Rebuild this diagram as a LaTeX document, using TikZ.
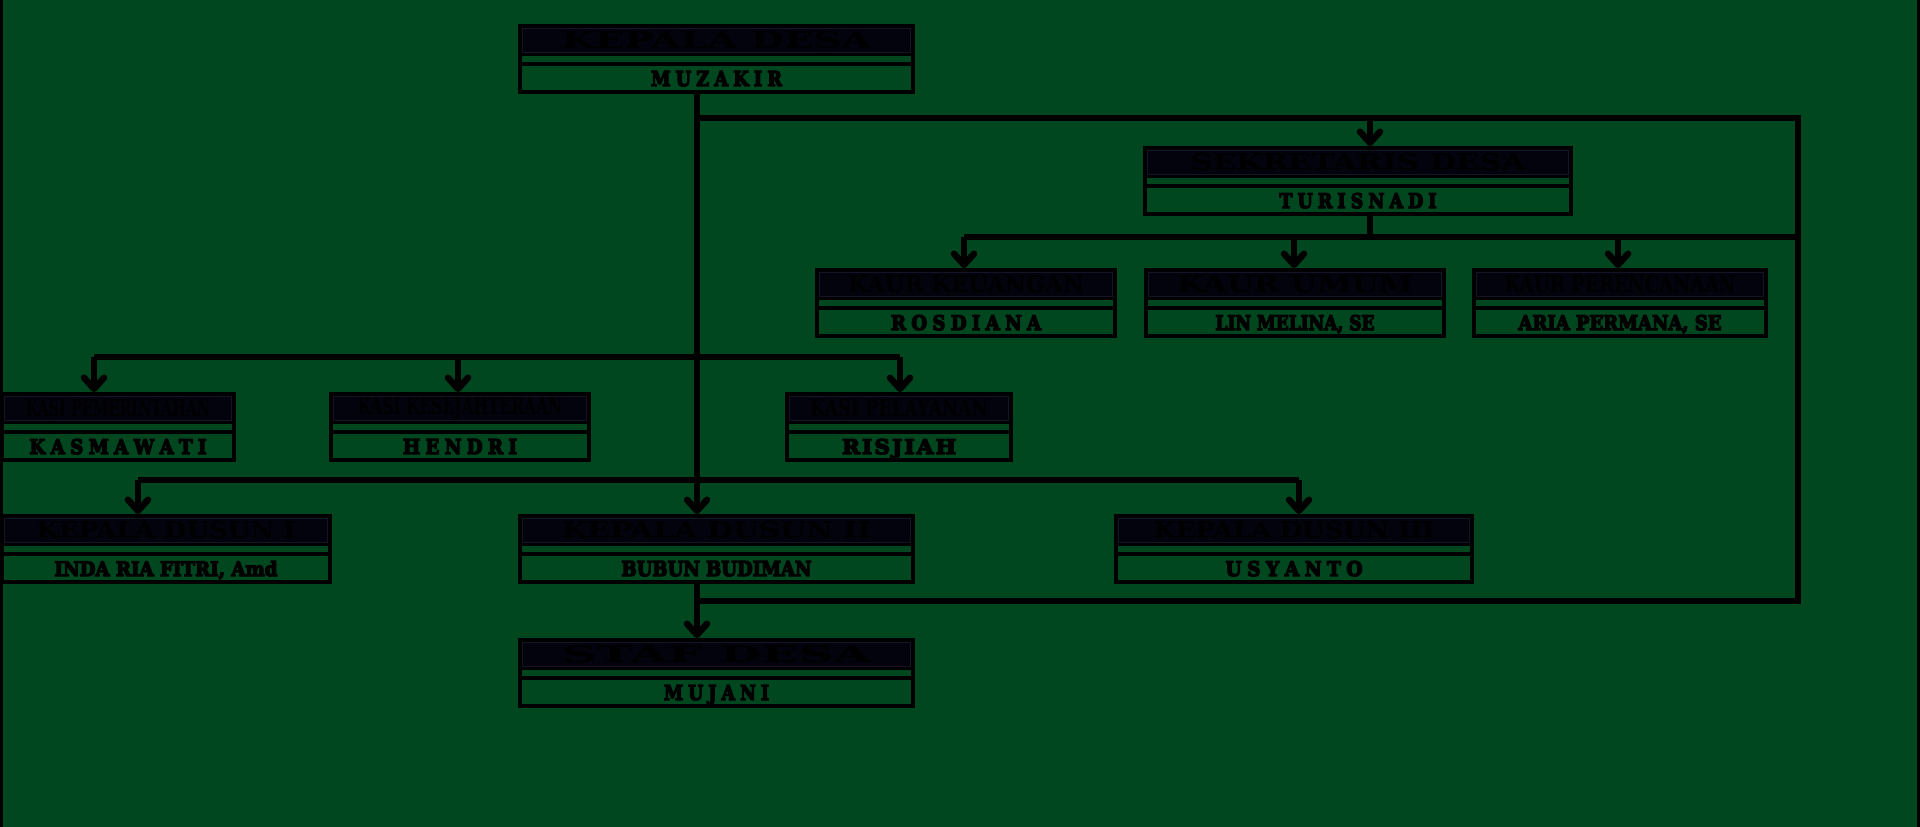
\documentclass[tikz,border=0pt]{standalone}
\usepackage{fontspec}
\usepackage{graphicx}
\usetikzlibrary{arrows.meta}
\newfontfamily\namefont{DejaVu Serif Bold}[FakeBold=7]
\newfontfamily\titlefont{DejaVu Serif Bold}
\definecolor{bg}{RGB}{0,71,31}
\definecolor{navy}{RGB}{3,3,14}
\definecolor{navyline}{RGB}{20,20,36}
\newcommand\ls{\kern.3em}
\newcommand\orgnode[7]{%
  \node[orgbox, minimum width={(#4)-(#2)-4}] (#1) at ({((#2)+(#4))/2},{(#3)+35}) {};
  \pgfmathsetlengthmacro\titlewd{0.78*((#4)-(#2))}%
  \node[titletext] (#1-t) at ([yshift=-16pt]#1.north) {\resizebox{\titlewd}{17pt}{#5}};
  \node[nametext] (#1-n) at ([yshift=-62pt]#1.north) {\resizebox{#7pt}{15pt}{#6}};
}
\begin{document}
\begin{tikzpicture}[x=1pt,y=-1pt,
  orgbox/.style={draw=black, line width=4pt, fill=bg, minimum height=66pt, inner sep=0pt,
    path picture={
      \fill[black] (path picture bounding box.north west) rectangle ([yshift=-30pt]path picture bounding box.north east);
      \filldraw[fill=navy, draw=navyline, line width=0.8pt] ([xshift=2.5pt,yshift=-2.5pt]path picture bounding box.north west) rectangle ([xshift=-2.5pt,yshift=-26pt]path picture bounding box.north east);
      \fill[black] ([yshift=-36pt]path picture bounding box.north west) rectangle ([yshift=-39.5pt]path picture bounding box.north east);
    }},
  titletext/.style={inner sep=0pt, text=black, font=\titlefont\fontsize{17}{17}\selectfont},
  nametext/.style={inner sep=0pt, anchor=base, text=black, font=\namefont\fontsize{20}{20}\selectfont},
  conn/.style={draw=black, line width=6.5pt},
  arr/.style={conn, -{Straight Barb[length=11pt,width=20pt,round]}}
]
\useasboundingbox (0,0) rectangle (1920,827);
\fill[bg] (0,0) rectangle (1920,827);
\fill[black] (0,0) rectangle (2.5,827);
\fill[black] (1917,0) rectangle (1920,827);

% boxes
\orgnode{muz}{518}{24}{915}{KEPALA DESA}{M\ls U\ls Z\ls A\ls K\ls I\ls R}{131}
\orgnode{tur}{1143}{146}{1573}{SEKRETARIS DESA}{T\ls U\ls R\ls I\ls S\ls N\ls A\ls D\ls I}{157}
\orgnode{ros}{815}{268}{1117}{KAUR KEUANGAN}{R\ls O\ls S\ls D\ls I\ls A\ls N\ls A}{150}
\orgnode{lin}{1144}{268}{1446}{KAUR UMUM}{LIN MELINA, SE}{159}
\orgnode{ari}{1472}{268}{1768}{KAUR PERENCANAAN}{ARIA PERMANA, SE}{203}
\orgnode{kas}{0}{392}{236}{KASI PEMERINTAHAN}{K\ls A\ls S\ls M\ls A\ls W\ls A\ls T\ls I}{177}
\orgnode{hen}{329}{392}{591}{KASI KESEJAHTERAAN}{H\ls E\ls N\ls D\ls R\ls I}{114}
\orgnode{ris}{785}{392}{1013}{KASI PELAYANAN}{R\kern.1em I\kern.1em S\kern.1em J\kern.1em I\kern.1em A\kern.1em H}{114}
\orgnode{ind}{0}{514}{332}{KEPALA DUSUN I}{INDA RIA FITRI, Amd}{223}
\orgnode{bub}{518}{514}{915}{KEPALA DUSUN II}{BUBUN BUDIMAN}{190}
\orgnode{usy}{1114}{514}{1474}{KEPALA DUSUN III}{U\ls S\ls Y\ls A\ls N\ls T\ls O}{137}
\orgnode{muj}{518}{638}{915}{STAF DESA}{M\ls U\ls J\ls A\ls N\ls I}{105}

% guide coordinates
\coordinate (cMain) at (697,0);
\coordinate (cRight) at (1798,0);
\coordinate (cTur) at (1370,0);
\coordinate (cRos) at (964,0);
\coordinate (cLin) at (1294,0);
\coordinate (cAri) at (1618,0);
\coordinate (cKas) at (94,0);
\coordinate (cHen) at (458,0);
\coordinate (cRis) at (900,0);
\coordinate (cInd) at (138,0);
\coordinate (cUsy) at (1299,0);
\coordinate (bTop) at (0,118);
\coordinate (bMid) at (0,237);
\coordinate (bRow4) at (0,357);
\coordinate (bRow5) at (0,480);
\coordinate (bBot) at (0,601);

% connectors
\draw[arr] (muz.south -| cMain) -- (bub.north -| cMain);
\draw[arr] (bub.south -| cMain) -- (muj.north -| cMain);
\draw[conn] (cMain |- bTop) -| (cRight |- bBot) -- (cMain |- bBot);
\draw[arr] (cTur |- bTop) -- (tur.north -| cTur);
\draw[conn] (tur.south -| cTur) -- (cTur |- bMid);
\draw[conn] (cRos |- bMid) -- (cRight |- bMid);
\draw[arr] (cRos |- bMid) -- (ros.north -| cRos);
\draw[arr] (cLin |- bMid) -- (lin.north -| cLin);
\draw[arr] (cAri |- bMid) -- (ari.north -| cAri);
\draw[conn] (cKas |- bRow4) -- (cRis |- bRow4);
\draw[arr] (cKas |- bRow4) -- (kas.north -| cKas);
\draw[arr] (cHen |- bRow4) -- (hen.north -| cHen);
\draw[arr] (cRis |- bRow4) -- (ris.north -| cRis);
\draw[conn] (cInd |- bRow5) -- (cUsy |- bRow5);
\draw[arr] (cInd |- bRow5) -- (ind.north -| cInd);
\draw[arr] (cUsy |- bRow5) -- (usy.north -| cUsy);
\end{tikzpicture}
\end{document}
